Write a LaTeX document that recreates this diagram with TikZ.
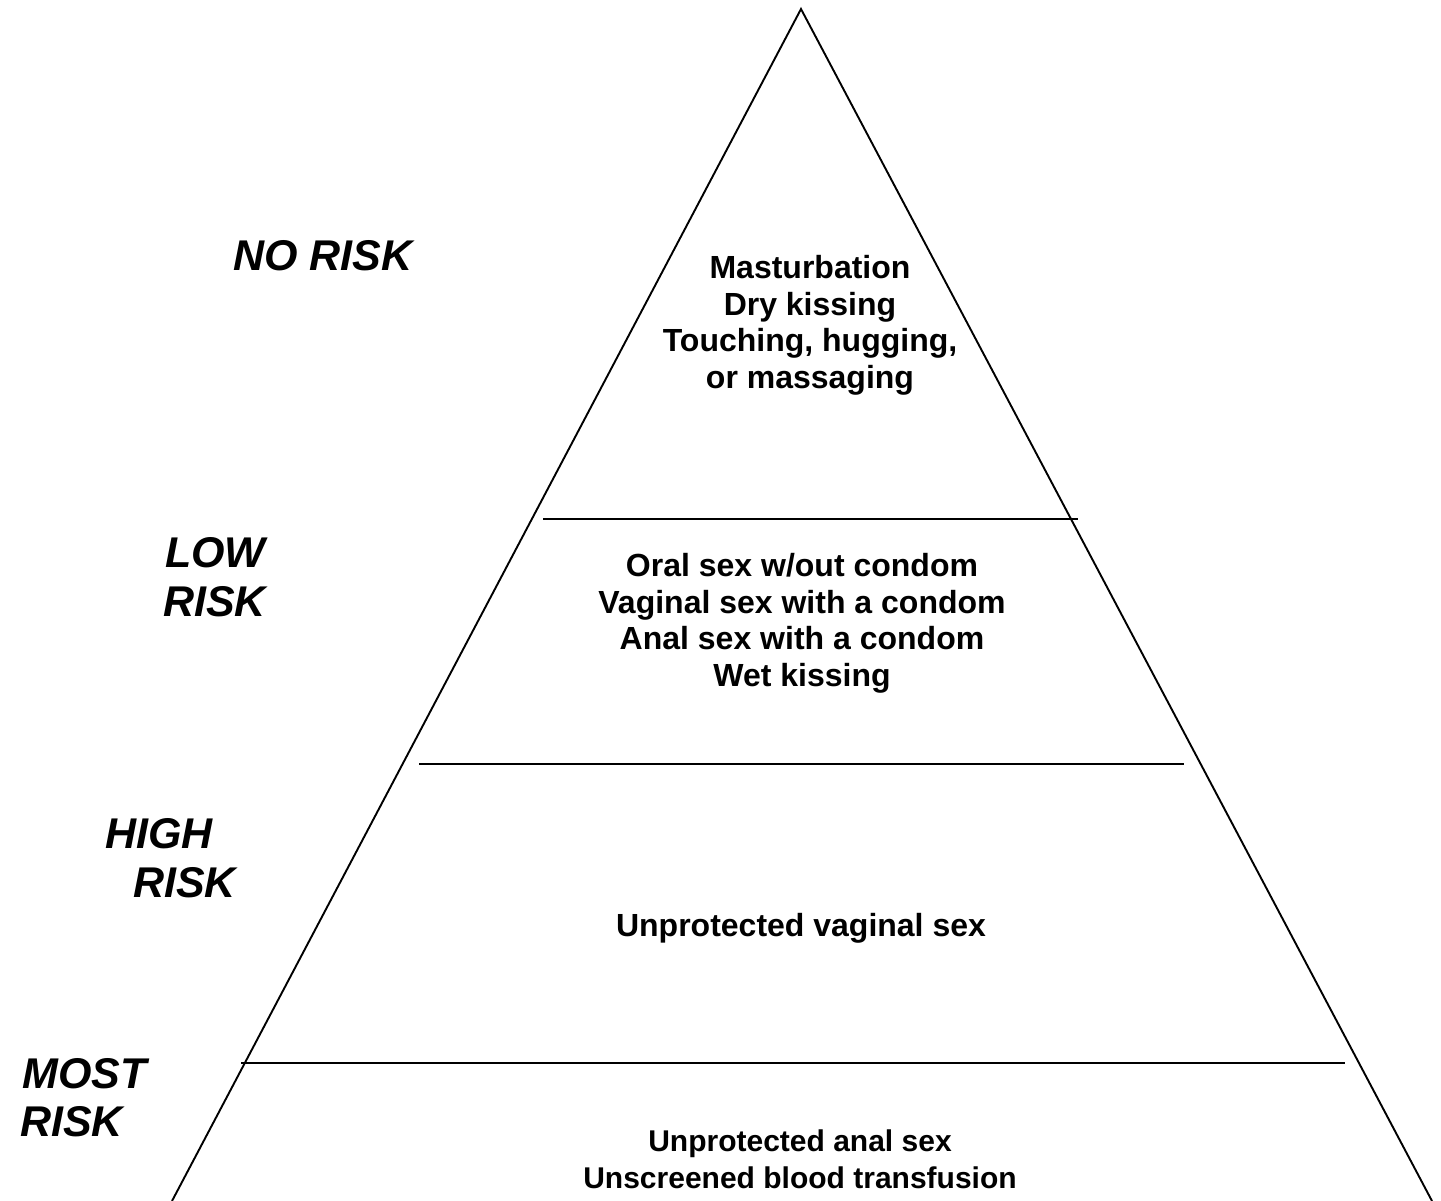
\documentclass[tikz,border=0pt]{standalone}
\usepackage{fontspec}
\setmainfont{Liberation Sans}
\tikzset{
  edge/.style={line width=1.9pt, black},
  body/.style={anchor=base, inner sep=0pt, font=\bfseries\fontsize{32}{38}\selectfont},
  bodysmall/.style={anchor=base, inner sep=0pt, font=\bfseries\fontsize{30}{36}\selectfont},
  level/.style={anchor=base west, inner sep=0pt, font=\bfseries\itshape\fontsize{43}{50}\selectfont}
}
\begin{document}
\begin{tikzpicture}[x=1pt,y=-1pt]
\useasboundingbox (0,0) rectangle (1441,1201);
\begin{scope}
\clip (0,0) rectangle (1441,1201);
\coordinate (apex) at (801,9);
\coordinate (bl) at (172,1201);
\coordinate (br) at (1432,1201);
\draw[edge, line join=miter] (bl) -- (apex) -- (br);
\coordinate (a1) at (543,519); \coordinate (b1) at (1078,519);
\coordinate (a2) at (419,764); \coordinate (b2) at (1184,764);
\coordinate (a3) at (241,1063); \coordinate (b3) at (1345,1063);
\draw[edge] (a1) -- (b1);
\draw[edge] (a2) -- (b2);
\draw[edge] (a3) -- (b3);
\end{scope}
% body texts
\node[body] (t11) at (810,279) {Masturbation};
\node[body] (t12) at (810,315) {Dry kissing};
\node[body] (t13) at (810,351) {Touching, hugging,};
\node[body] (t14) at (810,388) {or massaging};
\node[body] (t21) at (802,576) {Oral sex w/out condom};
\node[body] (t22) at (802,613) {Vaginal sex with a condom};
\node[body] (t23) at (802,649) {Anal sex with a condom};
\node[body] (t24) at (802,686) {Wet kissing};
\node[body] (t31) at (801,936) {Unprotected vaginal sex};
\node[bodysmall] (t41) at (800,1151) {Unprotected anal sex};
\node[bodysmall] (t42) at (800,1188) {Unscreened blood transfusion};
% level labels
\node[level] (l1) at (233,271) {NO RISK};
\node[level] (l2a) at (165,567) {LOW};
\node[level] (l2b) at (163,616) {RISK};
\node[level] (l3a) at (105,848) {HIGH};
\node[level] (l3b) at (133,897) {RISK};
\node[level] (l4a) at (22,1088) {MOST};
\node[level] (l4b) at (20,1136) {RISK};
\end{tikzpicture}
\end{document}
